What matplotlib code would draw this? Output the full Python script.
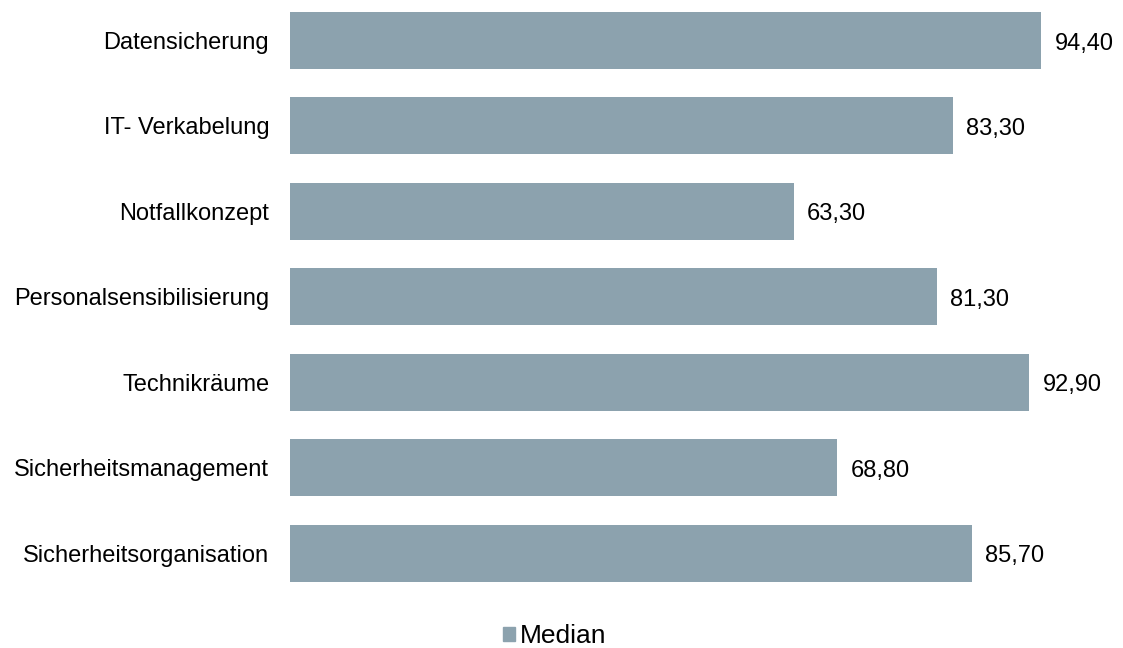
import matplotlib.pyplot as plt
from matplotlib.patches import Patch

plt.rcParams['font.family'] = ['Liberation Sans', 'DejaVu Sans']

categories = ['Datensicherung', 'IT- Verkabelung', 'Notfallkonzept',
              'Personalsensibilisierung', 'Technikräume',
              'Sicherheitsmanagement', 'Sicherheitsorganisation']
median = [94.40, 83.30, 63.30, 81.30, 92.90, 68.80, 85.70]
bar_color = '#8CA2AE'

W, H = 1123, 648
fig = plt.figure(figsize=(W / 100, H / 100), dpi=100)
ax = fig.add_axes([290 / W, (H - 595.8) / H, 795.5 / W, 598 / H])

pos = list(range(len(categories)))
ax.barh(pos, median, height=0.667, color=bar_color)
ax.set_ylim(len(categories) - 0.5, -0.5)
ax.set_xlim(0, 100)

# value labels sit a touch below the bar centre in the original
for y, v in zip(pos, median):
    ax.text(v + 1.7, y + 0.035, f'{v:.2f}'.replace('.', ','), va='center', ha='left', fontsize=17)

ax.set_yticks(pos)
ax.set_yticklabels(categories, fontsize=17)
ax.tick_params(axis='y', length=0, pad=15)
ax.set_xticks([])
for s in ax.spines.values():
    s.set_visible(False)

fig.legend(handles=[Patch(color=bar_color, label='Median')], loc='center',
           bbox_to_anchor=(555 / W, (H - 636) / H), frameon=False, fontsize=19,
           handlelength=0.45, handleheight=0.45, handletextpad=0.2)

fig.savefig('out.png', dpi=100)
